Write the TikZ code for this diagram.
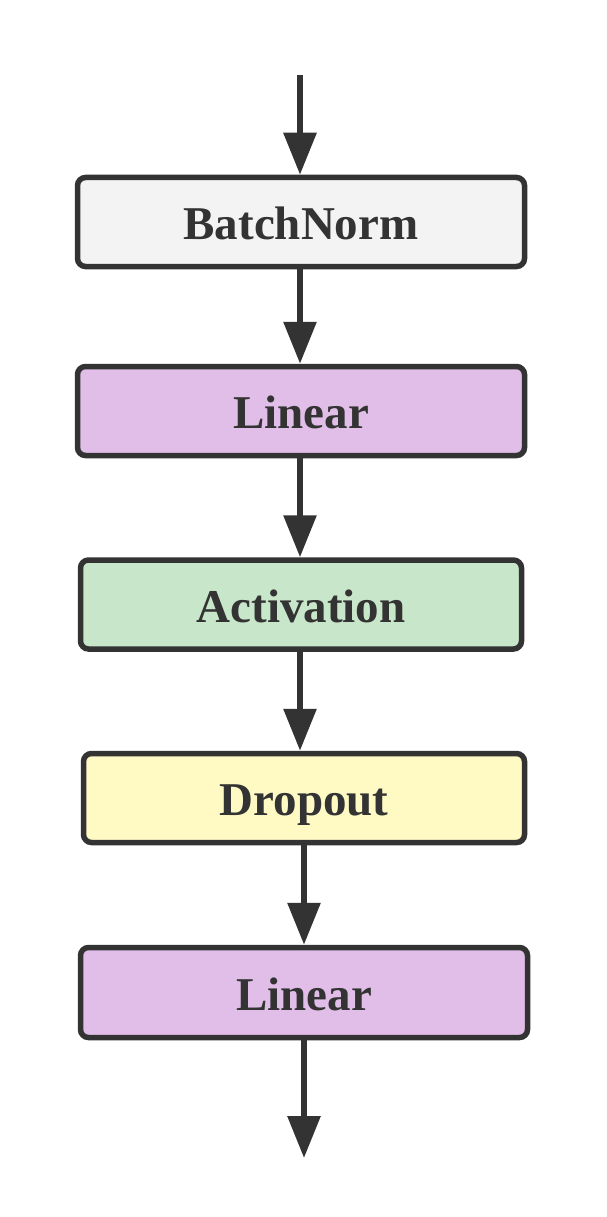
\documentclass[tikz,border=0pt]{standalone}
\usepackage{fontspec}
\setmainfont{Liberation Serif}
\usetikzlibrary{arrows.meta}

\definecolor{ink}{HTML}{333333}
\definecolor{normfill}{HTML}{F3F3F3}
\definecolor{linfill}{HTML}{E1BEE7}
\definecolor{actfill}{HTML}{C8E6C9}
\definecolor{dropfill}{HTML}{FFF9C4}

\begin{document}
\begin{tikzpicture}[x = 1pt, y = -1pt,
    layer/.style = {draw = ink, line width = 5.5pt, rounded corners = 8pt,
        text = ink, font = \fontsize{47}{56}\selectfont\bfseries,
        text height = 40pt, text depth = 5pt,
        minimum height = 89pt, inner sep = 0pt},
    flow/.style = {draw = ink, line width = 6pt,
        -{Triangle[width = 32pt, length = 42pt]}}]
    \useasboundingbox (0, 0) rectangle (606, 1217);

    \node[layer, fill = normfill, minimum width = 447pt] (norm) at (301, 222) {BatchNorm};
    \node[layer, fill = linfill, minimum width = 447pt] (lin1) at (301, 411) {Linear};
    \node[layer, fill = actfill, minimum width = 441pt] (act) at (301, 604.5) {Activation};
    \node[layer, fill = dropfill, minimum width = 441pt] (drop) at (304, 798) {Dropout};
    \node[layer, fill = linfill, minimum width = 447pt, minimum height = 90pt] (lin2) at (304, 992.5) {Linear};

    \coordinate (in) at (300, 75);
    \coordinate (out) at (304, 1158);

    \draw[flow] (in) -- (in |- norm.north);
    \draw[flow] (in |- norm.south) -- (in |- lin1.north);
    \draw[flow] (in |- lin1.south) -- (in |- act.north);
    \draw[flow] (in |- act.south) -- (in |- drop.north);
    \draw[flow] (lin2.north |- drop.south) -- (lin2.north);
    \draw[flow] (lin2.south) -- (out);
%    \draw (act.east) -- (drop.east);
\end{tikzpicture}
\end{document}
